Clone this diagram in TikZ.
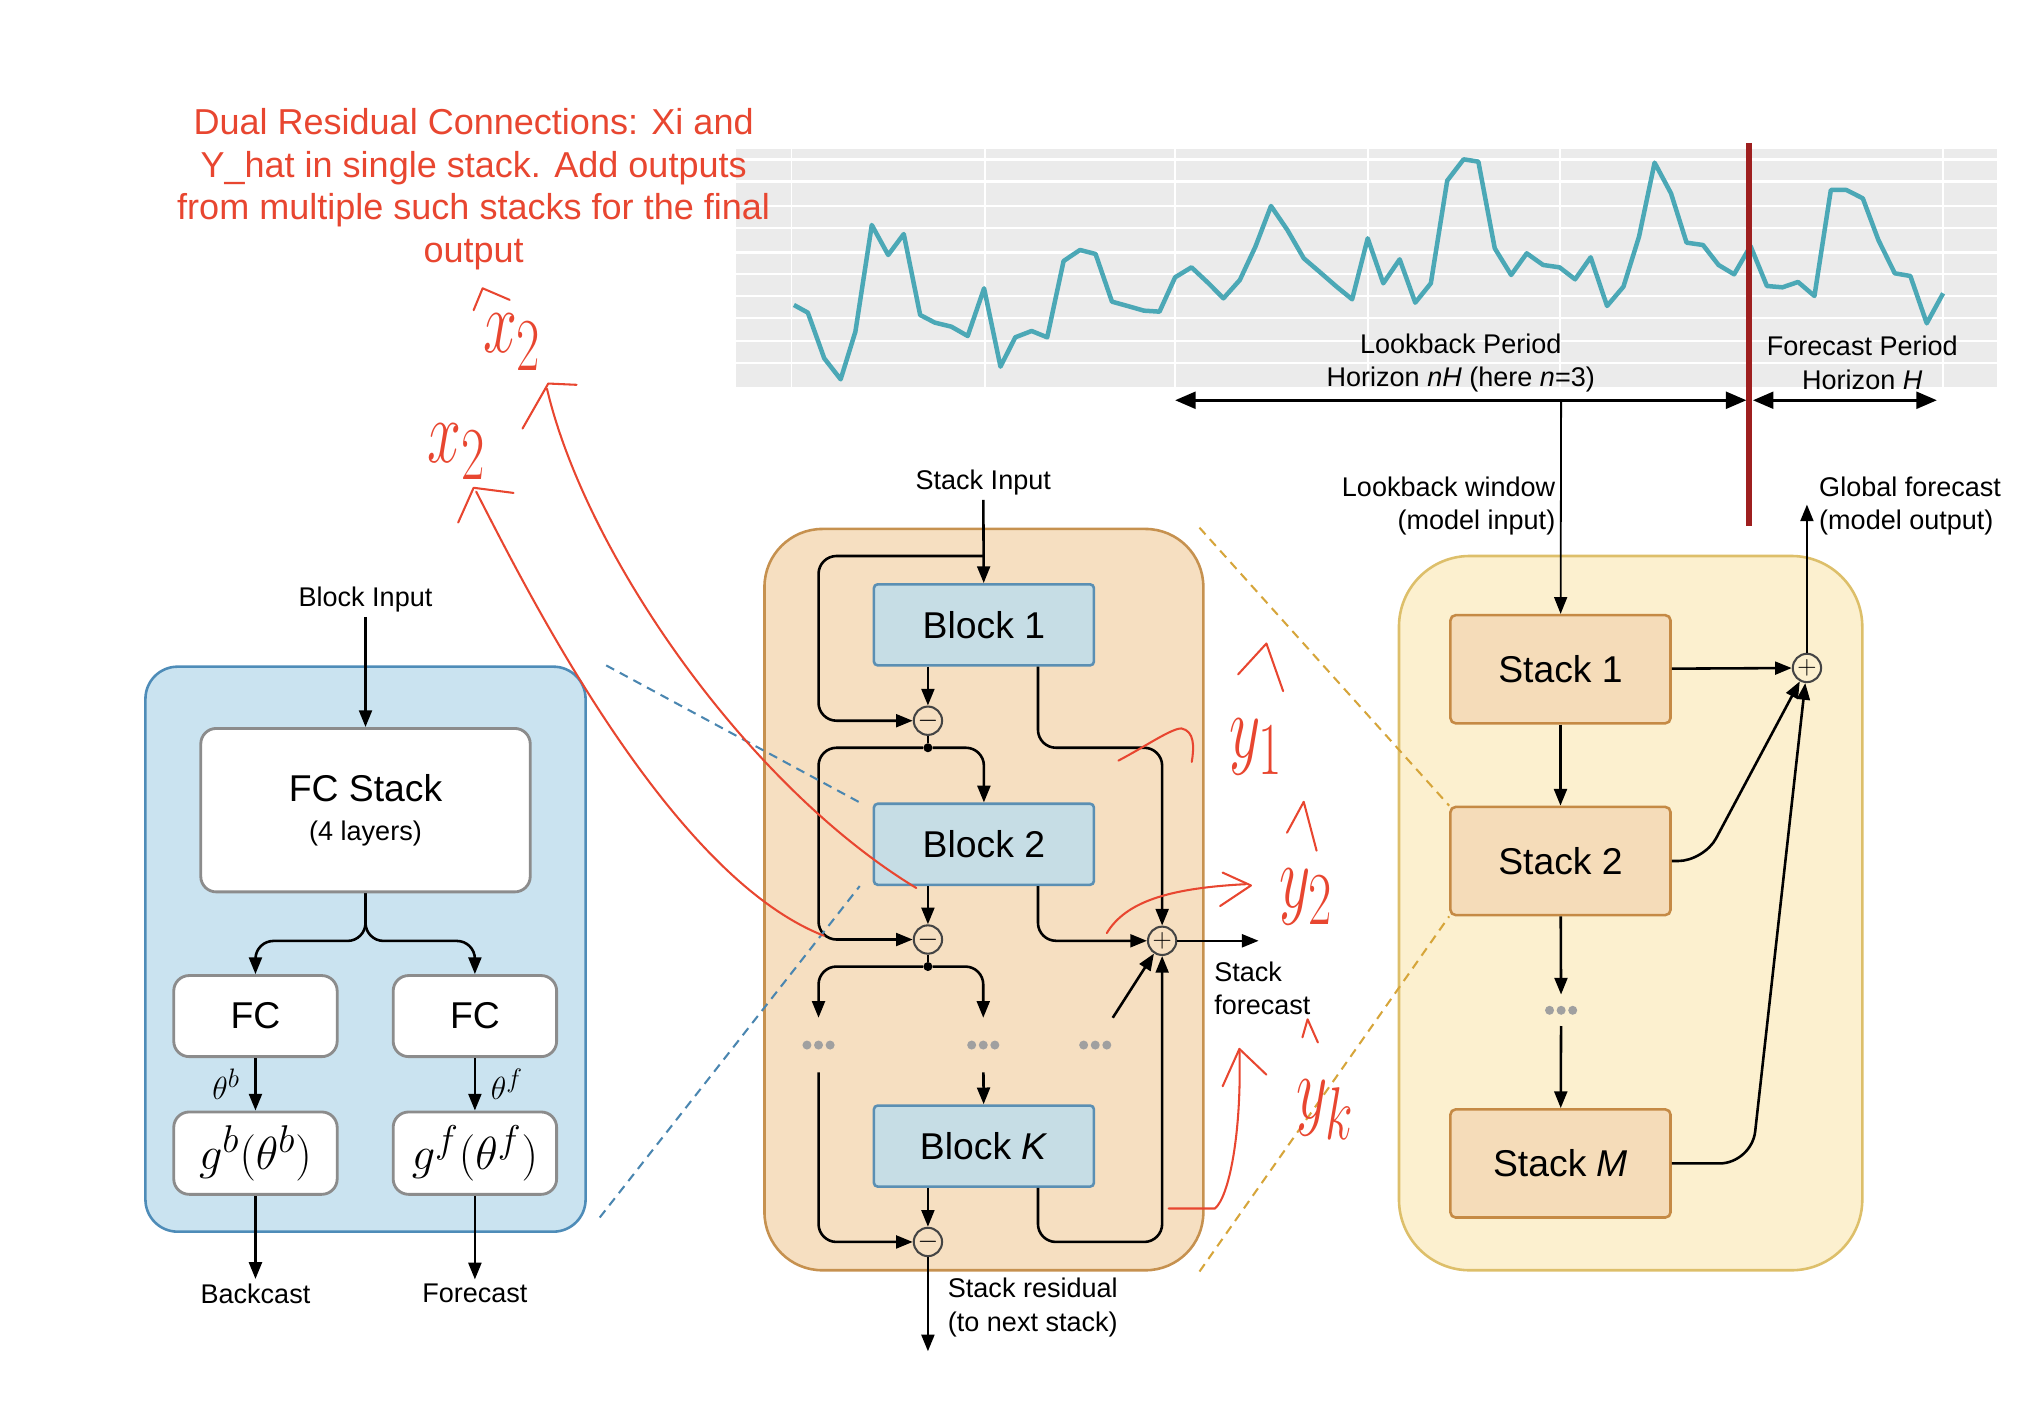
\documentclass[tikz,border=0pt]{standalone}
\usepackage{graphicx}
\usepackage{fontspec}
\setmainfont{Liberation Sans}
\usetikzlibrary{arrows.meta, positioning}

\definecolor{blockpanelfill}{HTML}{CAE3F0}
\definecolor{blockpanelline}{HTML}{4E8CB8}
\definecolor{stackpanelfill}{HTML}{F6DFC1}
\definecolor{stackpanelline}{HTML}{C6914F}
\definecolor{blockfill}{HTML}{C6DDE5}
\definecolor{blockline}{HTML}{5B8FB3}
\definecolor{modelfill}{HTML}{FCF0CF}
\definecolor{modelline}{HTML}{DDBF6A}
\definecolor{stackfill}{HTML}{F5DCB9}
\definecolor{stackline}{HTML}{C58A45}
\definecolor{boxgray}{HTML}{8C8C8C}
\definecolor{opgray}{HTML}{444444}
\definecolor{dotgray}{HTML}{A0A0A0}
\definecolor{seriescol}{HTML}{4BA8B6}
\definecolor{chartbg}{HTML}{EBEBEB}
\definecolor{annotred}{HTML}{E84630}
\definecolor{cutred}{HTML}{9E1F1F}
\definecolor{zoomblue}{HTML}{4A86B0}
\definecolor{zoomgold}{HTML}{D6A53A}

\tikzset{
  conn/.style={line width=2pt, -{Triangle[length=13pt,width=10pt]}},
  thinconn/.style={line width=1.4pt, -{Triangle[length=13pt,width=10pt]}},
  span/.style={line width=2.4pt, {Triangle[length=16pt,width=13pt]}-{Triangle[length=16pt,width=13pt]}},
  panel/.style={line width=2pt},
  whitebox/.style={draw=boxgray, fill=white, line width=2.2pt, rounded corners=12pt},
  blockbox/.style={draw=blockline, fill=blockfill, line width=2pt, rounded corners=3pt,
    minimum width=171pt, minimum height=63pt, font=\fontsize{29}{34}\selectfont},
  stackbox/.style={draw=stackline, fill=stackfill, line width=2pt, rounded corners=4pt,
    minimum width=171pt, minimum height=84pt, font=\fontsize{29}{34}\selectfont},
  opnode/.style={circle, draw=opgray, line width=1.6pt, minimum size=22pt, inner sep=0pt,
    font=\fontsize{20}{20}\selectfont},
  joint/.style={circle, fill=black, minimum size=7pt, inner sep=0pt},
  gap/.style={minimum width=30pt, minimum height=42pt, inner sep=0pt},
  zoomline/.style={dash pattern=on 7pt off 5pt, line width=1.6pt},
  annot/.style={draw=annotred, line width=1.6pt, line cap=round, line join=round},
  scribble/.style={text=annotred, inner sep=0pt, font=\fontsize{24.88}{30}\selectfont},
}
\newcommand{\bigmath}[1]{\scalebox{1.45}{$#1$}}
\newcommand{\scrawl}[1]{\scalebox{1.9}[2.8]{$#1$}}

\begin{document}
\begin{tikzpicture}[x=1pt, y=-1pt, font=\fontsize{21}{26}\selectfont]
\useasboundingbox (0,0) rectangle (1568,1092);

% series chart
\fill[chartbg] (572,116) rectangle (1552,301);
\foreach \y in {124,141,160,177,196,213,230,247,265,282}
  \draw[white, line width=2pt] (572,\y) -- (1552,\y);
\foreach \x in {615,765,913,1063,1212,1510}
  \draw[white, line width=1.5pt] (\x,116) -- (\x,301);
\begin{scope}[shift={(567.2,101)}, xscale=0.6369, yscale=0.259]
  \draw[seriescol, line width=3.5pt, line join=round] plot coordinates {
    (78,525) (95,548) (115,685) (135,748) (153,605) (173,285) (193,375) (212,312)
    (232,555) (250,578) (270,590) (290,618) (310,475) (330,710) (348,622) (368,603)
    (387,622) (407,393) (427,360) (446,372) (466,515) (485,528) (505,542) (524,545)
    (543,442) (563,412) (583,458) (602,505) (622,450) (641,350) (660,228) (680,300)
    (700,385) (719,425) (740,470) (759,508) (778,325) (797,460) (817,388) (836,518)
    (855,460) (875,152) (895,88) (913,95) (933,355) (953,435) (972,370) (992,405)
    (1012,412) (1031,448) (1050,382) (1070,528) (1090,470) (1109,320) (1128,98)
    (1148,190) (1167,338) (1187,345) (1206,405) (1225,433) (1245,348) (1265,468)
    (1284,472) (1303,456) (1323,498) (1343,180) (1362,180) (1382,205) (1401,330)
    (1421,430) (1440,438) (1460,580) (1480,490)};
\end{scope}

\node[align=center] (lookback) at (1135,282) {Lookback Period\\Horizon \textit{nH} (here \textit{n}=3)};
\node[align=center] (forecastper) at (1447,282) {Forecast Period\\Horizon \textit{H}};
\coordinate (lbstart) at (913,311);
\coordinate (split) at (1358,311);
\coordinate (fcend) at (1505,311);
\coordinate (lbtap) at (1213,311);
\draw[span] (lbstart) -- ([xshift=-1pt]split);
\draw[span] ([xshift=4pt]split) -- (fcend);
\draw[cutred, line width=4pt] (1359,111) -- (1359,409);

% note
\node[align=center, text=annotred, font=\fontsize{28}{33}\selectfont] (note) at (368,147)
  {Dual Residual Connections: Xi and\\Y\_hat in single stack. Add outputs\\from multiple such stacks for the final\\output};

% panels
\node[panel, draw=blockpanelline, fill=blockpanelfill, rounded corners=25pt,
  minimum width=342pt, minimum height=439pt] (blockpanel) at (284,737.5) {};
\node[panel, draw=stackpanelline, fill=stackpanelfill, rounded corners=45pt,
  minimum width=341pt, minimum height=576pt] (stackpanel) at (764.5,699) {};
\node[panel, draw=modelline, fill=modelfill, rounded corners=55pt,
  minimum width=360pt, minimum height=555pt] (modelpanel) at (1267,709.5) {};

% block
\node (blockin) at (284,466) {Block Input};
\node[whitebox, minimum width=256pt, minimum height=127pt, align=center] (fcstack) at (284,629.5)
  {{\fontsize{29}{34}\selectfont FC Stack}\\[4pt](4 layers)};
\node[whitebox, minimum width=127pt, minimum height=63pt, font=\fontsize{29}{34}\selectfont] (fcb) at (198.5,789.5) {FC};
\node[whitebox, minimum width=127pt, minimum height=63pt, font=\fontsize{29}{34}\selectfont] (fcf) at (369,789.5) {FC};
\node[whitebox, minimum width=127pt, minimum height=64pt, font=\fontsize{24.88}{30}\selectfont] (gb) at (198.5,896) {\bigmath{g^b(\theta^b)}};
\node[whitebox, minimum width=127pt, minimum height=64pt, font=\fontsize{24.88}{30}\selectfont] (gf) at (369,896) {\bigmath{g^f(\theta^f)}};
\node (backcast) at (198.5,1005) {Backcast};
\node (forecast) at (369,1005) {Forecast};

\draw[conn] (blockin) -- (fcstack);
\draw[conn, rounded corners=14pt] (fcstack.south) -- ++(0,37) -| (fcb.north);
\draw[conn, rounded corners=14pt] (fcstack.south) -- ++(0,37) -| (fcf.north);
\draw[conn] (fcb) -- node[left=8pt, font=\fontsize{24.88}{30}\selectfont] {$\theta^b$} (gb);
\draw[conn] (fcf) -- node[right=8pt, font=\fontsize{24.88}{30}\selectfont] {$\theta^f$} (gf);
\draw[conn] (gb) -- (backcast);
\draw[conn] (gf) -- (forecast);

% stack
\node (stackin) at (764,375) {Stack Input};
\node[blockbox] (block1) at (764.5,485.5) {Block 1};
\node[blockbox] (block2) at (764.5,656) {Block 2};
\node[blockbox] (blockK) at (764.5,890.5) {Block \textit{K}};
\node[opnode] (m1) at (721,560) {$-$};
\node[opnode] (m2) at (721,730) {$-$};
\node[opnode] (m3) at (721,965) {$-$};
\node[opnode] (plus) at (903,731) {$+$};
\node[joint] (d1) at (721,581) {};
\node[joint] (d2) at (721,751) {};
\node[gap] (dl) at (636,812) {};
\node[gap] (dm) at (764,812) {};
\node[gap] (dr) at (851,812) {};
\coordinate (lb) at (636,0);
\coordinate (sin) at (764,432);
\coordinate (resout) at (721,1050);
\coordinate (sfout) at (978,731);
\node[anchor=west, align=left] (sflabel) at (940,768) {Stack\\forecast};
\node[anchor=west, align=left] (reslabel) at (733,1016) {Stack residual\\(to next stack)};

\draw[conn] (stackin) -- (block1);
\draw[conn, rounded corners=14pt] (sin) -| (lb |- m1) -- (m1);
\draw[conn] (block1.south -| m1) -- (m1);
\draw[conn, rounded corners=14pt] ([xshift=42pt]block1.south) -- ++(0,63) -| (plus);
\draw[line width=2pt] (m1) -- (d1);
\draw[conn, rounded corners=14pt] (d1) -| (block2.north);
\draw[conn, rounded corners=14pt] (d1) -| (lb |- m2) -- (m2);
\draw[conn] (block2.south -| m2) -- (m2);
\draw[conn, rounded corners=14pt] ([xshift=42pt]block2.south) |- (plus);
\draw[line width=2pt] (m2) -- (d2);
\draw[conn, rounded corners=14pt] (d2) -| (dl);
\draw[conn, rounded corners=14pt] (d2) -| (dm);
\draw[conn] (dm) -- (blockK);
\draw[conn, rounded corners=14pt] (dl) |- (m3);
\draw[conn] (dr) -- (plus);
\draw[conn] (blockK.south -| m3) -- (m3);
\draw[conn, rounded corners=14pt] ([xshift=42pt]blockK.south) |- (plus |- m3) -- (plus);
\draw[conn] (m3) -- (resout);
\draw[conn] (plus) -- (sfout);

% model
\node[stackbox] (stack1) at (1212.5,520) {Stack 1};
\node[stackbox] (stack2) at (1212.5,669) {Stack 2};
\node[stackbox] (stackM) at (1212.5,904) {Stack \textit{M}};
\node[gap, minimum height=24pt] (ds) at (1213,785) {};
\node[opnode] (gp) at (1404,519) {$+$};
\coordinate (gout) at (1404,392);
\node[anchor=east, align=right] (inlabel) at (1212,393) {Lookback window\\(model input)};
\node[anchor=west, align=left] (outlabel) at (1410,393) {Global forecast\\(model output)};

\draw[thinconn] (lbtap) -- (stack1);
\draw[conn] (stack1) -- (stack2);
\draw[conn] (stack2) -- (ds);
\draw[conn] (ds) -- (stackM);
\draw[conn] (stack1) -- (gp);
\draw[conn, rounded corners=20pt] (stack2.east) -- ++(25,0) -- (gp);
\draw[conn, rounded corners=25pt] (stackM.east) -- ++(62,0) -- (gp);
\draw[conn] (gp) -- (gout);

\foreach \n in {dl,dm,dr,ds}
  \foreach \d in {-9,0,9}
    \fill[dotgray] ([xshift=\d pt]\n.center) circle[radius=3.5pt];

% zoom guides
\draw[zoomline, zoomblue] ([xshift=15pt]blockpanel.north east) -- ([xshift=-10pt]block2.north west);
\draw[zoomline, zoomblue] ([xshift=10pt, yshift=12pt]blockpanel.south east) -- ([xshift=-10pt]block2.south west);
\draw[zoomline, zoomgold] ([xshift=-4pt]stackpanel.north east) -- (stack2.north west);
\draw[zoomline, zoomgold] ([xshift=-4pt]stackpanel.south east) -- (stack2.south west);

% hand notes (hats drawn as strokes)
\node[scribble] (xhat) at (398,266) {\scrawl{x_2}};
\node[scribble] (xres) at (355,351) {\scrawl{x_2}};
\node[scribble] (yhat1) at (976,580) {\scrawl{y_1}};
\node[scribble] (yhat2) at (1015,697) {\scrawl{y_2}};
\node[scribble] (yhatk) at (1030,862) {\scrawl{y_k}};
\draw[annot] (368,241) -- (375,224) -- (396,233);
\draw[annot] (962,524) -- (984,500) -- (997,537);
\draw[annot] (1000,647) -- (1013,623) -- (1023,661);
\draw[annot] (1012,806) -- (1016,792) -- (1024,810);
\draw[annot] (712,690) .. controls (580,610) and (455,430) .. (425,302);
\draw[annot] (406,333) -- (426,298) -- (448,299);
\draw[annot] (640,727) .. controls (520,680) and (410,460) .. (370,382);
\draw[annot] (356,406) -- (368,379) -- (399,383);
\draw[annot] (869,591) .. controls (890,580) and (910,566) .. (918,566) .. controls (928,568) and (928,580) .. (926,592);
\draw[annot] (860,725) .. controls (875,700) and (910,690) .. (968,687);
\draw[annot] (950,678) -- (972,688) -- (948,704);
\draw[annot] (908,939) -- (944,939) .. controls (955,930) and (965,880) .. (963,815);
\draw[annot] (950,844) -- (963,815) -- (984,835);
\end{tikzpicture}
\end{document}
